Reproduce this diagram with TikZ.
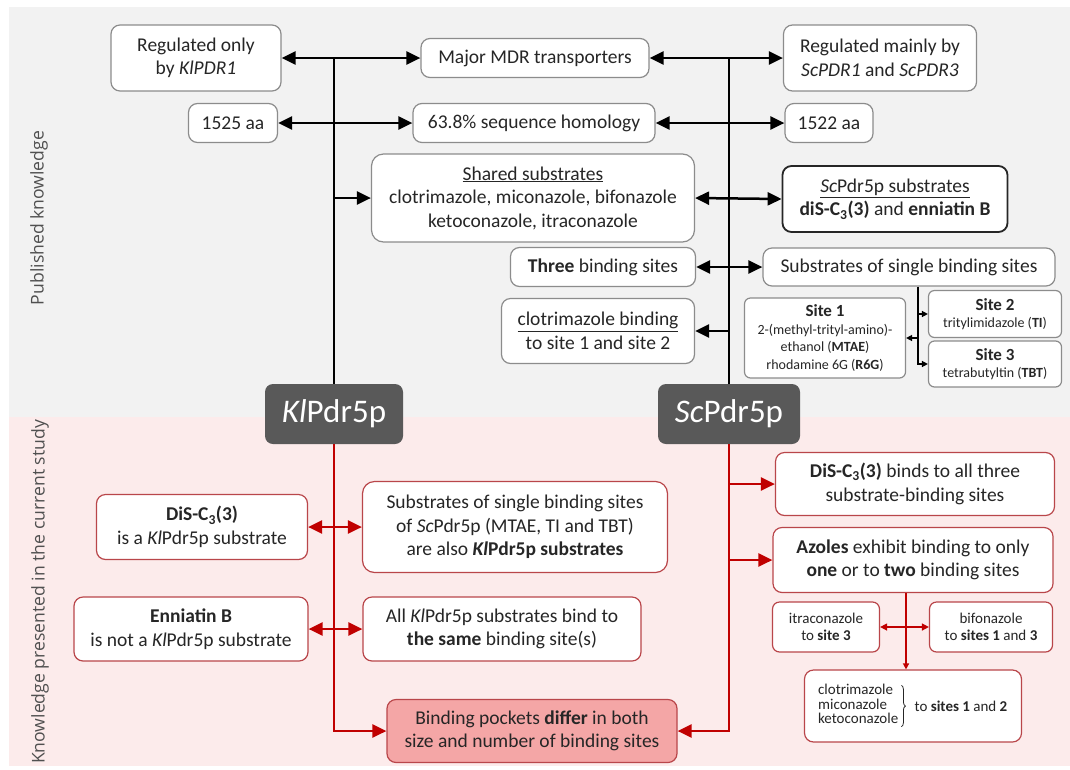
\documentclass[tikz,border=0pt]{standalone}
\usepackage{fontspec}
\setmainfont{Carlito}
\newfontfamily\sidefont{Open Sans}
\usetikzlibrary{arrows.meta,decorations.pathreplacing}

\definecolor{bggrey}{HTML}{F2F2F2}
\definecolor{bgpink}{HTML}{FCEBEB}
\definecolor{boxgrey}{HTML}{8C8C8C}
\definecolor{darkbox}{HTML}{595959}
\definecolor{linered}{HTML}{C00000}
\definecolor{boxred}{HTML}{B9464A}
\definecolor{pocket}{HTML}{F4A6A6}
\definecolor{txt}{HTML}{262626}
\definecolor{sidegrey}{HTML}{505050}

\tikzset{
  sz/.style 2 args={minimum width=#1pt, minimum height=#2pt},
  base/.style={rounded corners=9pt, align=center, inner sep=0pt, text=txt,
               font=\fontsize{19.5}{23.5}\selectfont},
  gbox/.style={base, draw=boxgrey, fill=white, line width=1.2pt},
  kbox/.style={base, draw=black!85, fill=white, line width=1.8pt},
  rbox/.style={base, draw=boxred, fill=white, line width=1.2pt},
  pbox/.style={rbox, fill=pocket},
  hub/.style={rounded corners=8pt, fill=darkbox, text=white, inner sep=0pt,
              font=\fontsize{33}{36}\selectfont},
  small/.style={font=\fontsize{15}{17}\selectfont},
  sitefont/.style={font=\fontsize{14}{17.5}\selectfont},
  plain/.style={inner sep=0pt, text=txt, font=\fontsize{15}{13}\selectfont},
  blk/.style={line width=2.5pt, black},
  rl/.style={line width=2.5pt, linered},
  tl/.style={line width=1.4pt, black},
  rtl/.style={line width=1.4pt, linered},
  tip/.style={-{Triangle[length=14pt,width=13pt]}},
  tips/.style={{Triangle[length=14pt,width=13pt]}-{Triangle[length=14pt,width=13pt]}},
  stip/.style={-{Triangle[length=6pt,width=6pt]}},
  stips/.style={{Triangle[length=7pt,width=7pt]}-{Triangle[length=7pt,width=7pt]}},
  sidelabel/.style={rotate=90, text=sidegrey, font=\sidefont\fontsize{17.6}{20}\selectfont},
}

\begin{document}
\begin{tikzpicture}[x=1pt, y=-1pt]
  % canvas and the two bands
  \path[use as bounding box, fill=white] (0,0) rectangle (1070,769);
  \fill[bggrey] (9,7) rectangle (1070,417);
  \fill[bgpink] (9,417) rectangle (1070,766);

  \node[sidelabel] (pub) at (39,218) {Published knowledge};
  \node[sidelabel] (cur) at (40,592) {Knowledge presented in the current study};

  % ---------- published knowledge ----------
  \node[gbox, sz={170}{66}] (reg1) at (196,58) {Regulated only\\by \textit{KlPDR1}};
  \node[gbox, sz={228}{39}] (mdr) at (535,58) {Major MDR transporters};
  \node[gbox, sz={193}{66}] (reg2) at (880,58) {Regulated mainly by\\\textit{ScPDR1} and \textit{ScPDR3}};

  \node[gbox, sz={89}{39}] (aa1) at (233,123) {1525 aa};
  \node[gbox, sz={242}{39}] (hom) at (534,123) {63.8\% sequence homology};
  \node[gbox, sz={88}{39}] (aa2) at (829,123) {1522 aa};

  \node[gbox, sz={323}{88}, rounded corners=12pt] (shared) at (533,198)
    {\underline{Shared substrates}\\clotrimazole, miconazole, bifonazole\\ketoconazole, itraconazole};
  \node[kbox, sz={225}{66}] (scsub) at (895,199)
    {\underline{\textit{Sc}Pdr5p substrates}\\\textbf{diS-C\textsubscript{3}(3)} and \textbf{enniatin B}};

  \node[gbox, sz={185}{39}] (three) at (603,267) {\textbf{Three} binding sites};
  \node[gbox, sz={292}{38}] (single) at (909,267) {Substrates of single binding sites};

  \node[gbox, sz={193}{65}] (clotb) at (598,331) {\underline{clotrimazole binding}\\to site 1 and site 2};

  \node[gbox, sitefont, sz={161}{80}, rounded corners=6pt] (site1) at (825,338)
    {{\fontsize{17}{19}\selectfont\textbf{Site 1}}\\
     2-(methyl-trityl-amino)-\\
     ethanol (\textbf{MTAE})\\
     rhodamine 6G (\textbf{R6G})};
  \node[gbox, sitefont, sz={133}{47}, rounded corners=6pt] (site2) at (995,314)
    {{\fontsize{17}{19}\selectfont\textbf{Site 2}}\\
     tritylimidazole (\textbf{TI})};
  \node[gbox, sitefont, sz={133}{46}, rounded corners=6pt] (site3) at (995,364)
    {{\fontsize{17}{19}\selectfont\textbf{Site 3}}\\
     tetrabutyltin (\textbf{TBT})};

  % ---------- current study ----------
  \node[rbox, sz={211}{65}] (dis) at (202,527)
    {\textbf{DiS-C\textsubscript{3}(3)}\\is a \textit{Kl}Pdr5p substrate};
  \node[rbox, sz={305}{91}, rounded corners=12pt] (subkl) at (515,527)
    {Substrates of single binding sites\\of \textit{Sc}Pdr5p (MTAE, TI and TBT)\\are also \textbf{\textit{Kl}Pdr5p substrates}};
  \node[rbox, sz={234}{64}] (enn) at (191,629)
    {\textbf{Enniatin B}\\is not a \textit{Kl}Pdr5p substrate};
  \node[rbox, sz={278}{64}] (allkl) at (502,629)
    {All \textit{Kl}Pdr5p substrates bind to\\\textbf{the same} binding site(s)};
  \node[pbox, sz={290}{63}] (pock) at (532,731)
    {Binding pockets \textbf{differ} in both\\size and number of binding sites};

  \node[rbox, sz={279}{63}] (disb) at (915,484)
    {\textbf{DiS-C\textsubscript{3}(3)} binds to all three\\substrate-binding sites};
  \node[rbox, sz={280}{65}] (azo) at (913,560)
    {\textbf{Azoles} exhibit binding to only\\\textbf{one} or to \textbf{two} binding sites};
  \node[rbox, small, sz={107}{50}, rounded corners=7pt] (itra) at (826,627)
    {itraconazole\\to \textbf{site 3}};
  \node[rbox, small, sz={123}{50}, rounded corners=7pt] (bif) at (991,627)
    {bifonazole\\to \textbf{sites 1} and \textbf{3}};

  % three azoles grouped by a brace
  \node[rbox, sz={217}{72}] (clot) at (913,706) {};
  \node[plain, anchor=west] (clotlist) at ([xshift=14pt]clot.west)
    {\begin{tabular}{@{}l@{}}clotrimazole\\miconazole\\ketoconazole\end{tabular}};
  \node[plain, anchor=west] (clotsite) at ([xshift=16pt]clotlist.east)
    {to \textbf{sites 1} and \textbf{2}};
  \draw[txt, line width=0.8pt, decorate, decoration={brace, amplitude=4pt}]
    ([xshift=3pt, yshift=-1pt]clotlist.north east) -- ([xshift=3pt, yshift=1pt]clotlist.south east);

  % the two transporters
  \node[hub, sz={138}{60}] (kl) at (334,414) {\textit{Kl}Pdr5p};
  \node[hub, sz={142}{60}] (sc) at (729,414) {\textit{Sc}Pdr5p};

  % ---------- black connectors ----------
  \draw[blk] (kl.north) -- ([yshift=-1.2pt]kl.north |- reg1.east);
  \draw[blk, tips] (reg1.east) -- (mdr.west);
  \draw[blk, tips] (aa1.east) -- (hom.west);
  \draw[blk, tip] (kl.north |- shared.west) -- (shared.west);

  \draw[blk] (sc.north) -- ([yshift=-1.2pt]sc.north |- mdr.east);
  \draw[blk, tips] (mdr.east) -- (reg2.west);
  \draw[blk, tips] (hom.east) -- (aa2.west);
  \draw[blk, tips] (shared.east) -- (scsub.west);
  \draw[blk, tips] (three.east) -- (single.west);
  \draw[blk, tip] (sc.north |- clotb.east) -- (clotb.east);

  \draw[tl, stip] ([xshift=9pt]single.south) |- (site3.west);
  \draw[tl, stip] ([xshift=9pt]single.south |- site2.west) -- (site2.west);
  \draw[tl, stip] ([xshift=9pt]single.south |- site1.east) -- (site1.east);

  % ---------- red connectors ----------
  \draw[rl, tip] (kl.south) |- (pock.west);
  \draw[rl, tips] (dis.east) -- (subkl.west);
  \draw[rl, tips] (enn.east) -- (allkl.west);

  \draw[rl, tip] (sc.south) |- (pock.east);
  \draw[rl, tip] (sc.south |- disb.west) -- (disb.west);
  \draw[rl, tip] (sc.south |- azo.west) -- (azo.west);

  \draw[rtl, stip] ([xshift=-7pt]azo.south) -- ([xshift=-7pt]azo.south |- clot.north);
  \draw[rtl, stips] (itra.east) -- (bif.west);
\end{tikzpicture}
\end{document}
